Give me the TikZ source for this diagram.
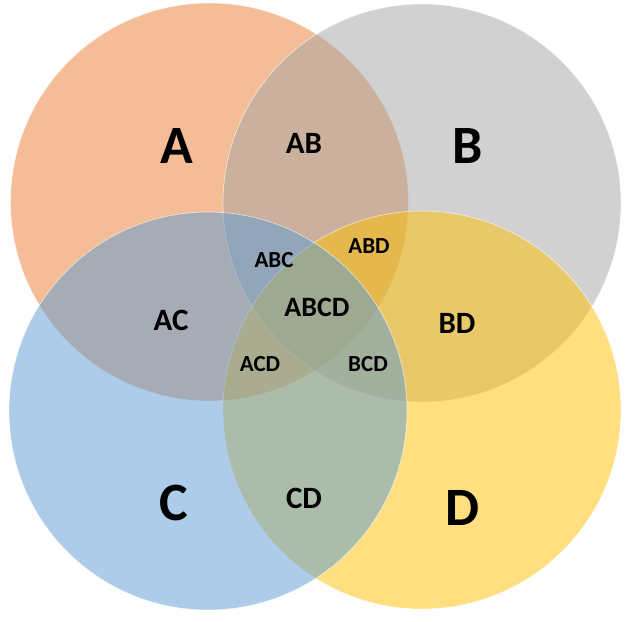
\documentclass[tikz,border=0pt]{standalone}
\usepackage{fontspec}
\setmainfont{Carlito}
\definecolor{cA}{HTML}{ED7D31}
\definecolor{cB}{HTML}{A5A5A5}
\definecolor{cC}{HTML}{5B9BD5}
\definecolor{cD}{HTML}{FFC000}
\tikzset{
  setcircle/.style={fill=#1, fill opacity=0.5, draw=white, draw opacity=0.6, line width=0.7pt},
  biglabel/.style={font=\bfseries\fontsize{54}{54}\selectfont, inner sep=0pt, text=black},
  twolabel/.style={font=\bfseries\fontsize{31}{31}\selectfont, inner sep=0pt, text=black},
  threelabel/.style={font=\bfseries\fontsize{23}{23}\selectfont, inner sep=0pt, text=black},
  fourlabel/.style={font=\bfseries\fontsize{28}{28}\selectfont, inner sep=0pt, text=black}
}
\begin{document}
\begin{tikzpicture}[x=1pt, y=-1pt]
\useasboundingbox (0,0) rectangle (631,621);
\fill[white] (0,0) rectangle (631,621);
\path[setcircle=cA] (209.5,202) circle (199);
\path[setcircle=cB] (422,203) circle (199);
\path[setcircle=cD] (422,410) circle (199);
\path[setcircle=cC] (208,411) circle (199);
\node[biglabel] (A) at (177,146) {A};
\node[biglabel] (B) at (468,146) {B};
\node[biglabel] (C) at (174,503) {C};
\node[biglabel] (D) at (463,508) {D};
\node[twolabel] (AB) at (304,143) {AB};
\node[twolabel] (AC) at (171,320) {AC};
\node[twolabel] (BD) at (457,323) {BD};
\node[twolabel] (CD) at (304,498) {CD};
\node[threelabel] (ABC) at (274,260) {ABC};
\node[threelabel] (ABD) at (369,246) {ABD};
\node[threelabel] (ACD) at (260,364) {ACD};
\node[threelabel] (BCD) at (368,364) {BCD};
\node[fourlabel] (ABCD) at (317,307) {ABCD};
\end{tikzpicture}
\end{document}
